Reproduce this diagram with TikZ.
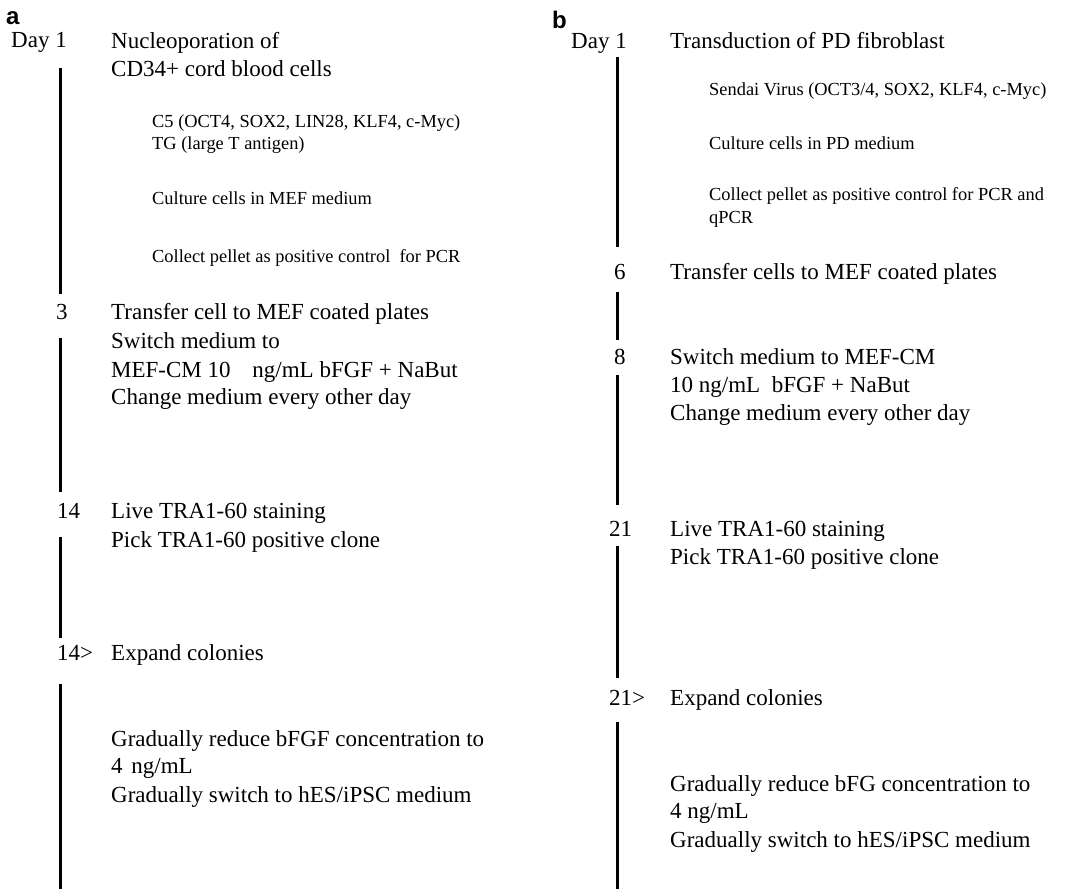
\documentclass[tikz,border=0pt]{standalone}
\usepackage{fontspec}
\setmainfont{Liberation Serif}
\setsansfont{Liberation Sans}
\begin{document}
\begin{tikzpicture}[x=1pt,y=-1pt,
  big/.style={font=\fontsize{23}{28}\selectfont, anchor=base west, inner sep=0pt},
  small/.style={font=\fontsize{18.4}{22}\selectfont, anchor=base west, inner sep=0pt},
  panel/.style={font=\fontsize{24}{28}\sffamily\bfseries\selectfont, anchor=base west, inner sep=0pt},
  tline/.style={line width=2.6pt}]
\useasboundingbox (0,0) rectangle (1069,889);
% ---------- panel a ----------
\node[panel] (pa) at (6,24) {a};
\node[big] (a1day) at (11,47) {Day 1};
\node[big] (a1t1) at (111,48) {Nucleoporation of};
\node[big] (a1t2) at (111,76) {CD34+ cord blood cells};
\node[small] (a1s1) at (152,127) {C5 (OCT4, SOX2, LIN28, KLF4, c-Myc)};
\node[small] (a1s2) at (152,149) {TG (large T antigen)};
\node[small] (a1s3) at (152,204) {Culture cells in MEF medium};
\node[small] (a1s4) at (152,262) {Collect pellet as positive control\ \ for PCR};
\node[big] (a3day) at (56,319) {3};
\node[big] (a3t1) at (111,319) {Transfer cell to MEF coated plates};
\node[big] (a3t2) at (111,348) {Switch medium to};
\node[big] (a3t3) at (111,377) {MEF-CM 10\hspace{16pt} ng/mL bFGF + NaBut};
\node[big] (a3t4) at (111,404) {Change medium every other day};
\node[big] (a14day) at (57,518) {14};
\node[big] (a14t1) at (111,518) {Live TRA1-60 staining};
\node[big] (a14t2) at (111,547) {Pick TRA1-60 positive clone};
\node[big] (a14gday) at (57,660) {14>};
\node[big] (a14gt1) at (111,660) {Expand colonies};
\node[big] (a14gt2) at (111,746) {Gradually reduce bFGF concentration to};
\node[big] (a14gt3) at (111,773) {4\hspace{3pt} ng/mL};
\node[big] (a14gt4) at (111,802) {Gradually switch to hES/iPSC medium};
\coordinate (la1) at (60.5,68);  \coordinate (la2) at (60.5,294);
\coordinate (la3) at (60.5,338); \coordinate (la4) at (60.5,492);
\coordinate (la5) at (60.5,537); \coordinate (la6) at (60.5,638);
\coordinate (la7) at (60.5,684); \coordinate (la8) at (60.5,889);
\draw[tline] (la1) -- (la2);
\draw[tline] (la3) -- (la4);
\draw[tline] (la5) -- (la6);
\draw[tline] (la7) -- (la8);
% ---------- panel b ----------
\node[panel] (pb) at (552,28) {b};
\node[big] (b1day) at (571,48) {Day 1};
\node[big] (b1t1) at (670,48) {Transduction of PD fibroblast};
\node[small] (b1s1) at (709,95) {Sendai Virus (OCT3/4, SOX2, KLF4, c-Myc)};
\node[small] (b1s2) at (709,149) {Culture cells in PD medium};
\node[small] (b1s3) at (709,200) {Collect pellet as positive control for PCR and};
\node[small] (b1s4) at (709,223) {qPCR};
\node[big] (b6day) at (614,279) {6};
\node[big] (b6t1) at (670,279) {Transfer cells to MEF coated plates};
\node[big] (b8day) at (614,364) {8};
\node[big] (b8t1) at (670,364) {Switch medium to MEF-CM};
\node[big] (b8t2) at (670,392) {10 ng/mL\ \ bFGF + NaBut};
\node[big] (b8t3) at (670,420) {Change medium every other day};
\node[big] (b21day) at (609,536) {21};
\node[big] (b21t1) at (670,536) {Live TRA1-60 staining};
\node[big] (b21t2) at (670,564) {Pick TRA1-60 positive clone};
\node[big] (b21gday) at (609,705) {21>};
\node[big] (b21gt1) at (670,705) {Expand colonies};
\node[big] (b21gt2) at (670,791) {Gradually reduce bFG concentration to};
\node[big] (b21gt3) at (670,818) {4 ng/mL};
\node[big] (b21gt4) at (670,847) {Gradually switch to hES/iPSC medium};
\coordinate (lb1) at (617.7,57);  \coordinate (lb2) at (617.7,247);
\coordinate (lb3) at (617.7,292); \coordinate (lb4) at (617.7,340);
\coordinate (lb5) at (617.7,375); \coordinate (lb6) at (617.7,505);
\coordinate (lb7) at (617.7,546); \coordinate (lb8) at (617.7,678);
\coordinate (lb9) at (617.7,722); \coordinate (lb10) at (617.7,889);
\draw[tline] (lb1) -- (lb2);
\draw[tline] (lb3) -- (lb4);
\draw[tline] (lb5) -- (lb6);
\draw[tline] (lb7) -- (lb8);
\draw[tline] (lb9) -- (lb10);
\end{tikzpicture}
\end{document}
